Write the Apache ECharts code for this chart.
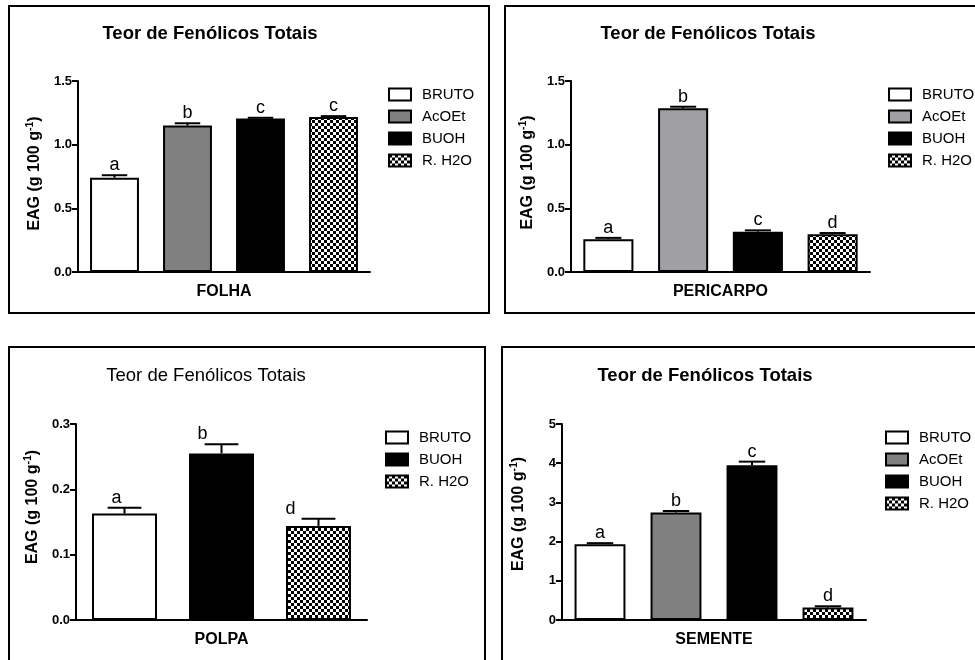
<!DOCTYPE html>
<html>
<head>
<meta charset="utf-8">
<script src="https://cdn.jsdelivr.net/npm/echarts@6/dist/echarts.min.js"></script>
<style>
  html, body { margin: 0; padding: 0; background: #fff; }
  #chart { width: 975px; height: 660px; }
</style>
</head>
<body>
<div id="chart"></div>
<script>
// ---- data ----
const titleText = 'Teor de Fenólicos Totais';

const folhaCats = ['BRUTO', 'AcOEt', 'BUOH', 'R. H2O'];
const folhaMean = [0.74, 1.15, 1.205, 1.218];
const folhaErr = [0.02, 0.018, 0.006, 0.006];
const folhaLetters = ['a', 'b', 'c', 'c'];

const pericarpoCats = ['BRUTO', 'AcOEt', 'BUOH', 'R. H2O'];
const pericarpoMean = [0.258, 1.286, 0.317, 0.296];
const pericarpoErr = [0.01, 0.012, 0.01, 0.01];
const pericarpoLetters = ['a', 'b', 'c', 'd'];

const polpaCats = ['BRUTO', 'BUOH', 'R. H2O'];
const polpaMean = [0.163, 0.255, 0.144];
const polpaErr = [0.009, 0.014, 0.011];
const polpaLetters = ['a', 'b', 'd'];

const sementeCats = ['BRUTO', 'AcOEt', 'BUOH', 'R. H2O'];
const sementeMean = [1.93, 2.74, 3.95, 0.32];
const sementeErr = [0.03, 0.04, 0.09, 0.03];
const sementeLetters = ['a', 'b', 'c', 'd'];

// ---- styling ----
const FONT = 'Liberation Sans, Arial, Helvetica, sans-serif';

function checker(cell) {
  const c = document.createElement('canvas');
  c.width = c.height = cell * 2;
  const g = c.getContext('2d');
  g.fillStyle = '#fff';
  g.fillRect(0, 0, cell * 2, cell * 2);
  g.fillStyle = '#000';
  g.fillRect(0, 0, cell, cell);
  g.fillRect(cell, cell, cell, cell);
  return c;
}
const checkerFill = { image: checker(3), repeat: 'repeat' };

function fillFor(name, grayTone) {
  if (name === 'BRUTO') return '#ffffff';
  if (name === 'AcOEt') return grayTone;
  if (name === 'BUOH') return '#000000';
  return checkerFill;
}

// yNameShift moves the rotated axis title upward along the axis (px)
const panels = [
  { cats: folhaCats, mean: folhaMean, err: folhaErr, letters: folhaLetters, label: 'FOLHA',
    max: 1.5, step: 0.5, digits: 1, gray: '#808080', boldTitle: true, letterDx: [0, 0, 0, 0], yNameShift: 3,
    grid: { left: 78, top: 81, width: 292, height: 191 },
    title: { x: 210, y: 24 }, legend: { x: 388, y: 87 },
    frame: { x: 9, y: 6, w: 480, h: 307 } },
  { cats: pericarpoCats, mean: pericarpoMean, err: pericarpoErr, letters: pericarpoLetters, label: 'PERICARPO',
    max: 1.5, step: 0.5, digits: 1, gray: '#a0a0a4', boldTitle: true, letterDx: [0, 0, 0, 0], yNameShift: 4,
    grid: { left: 571, top: 81, width: 299, height: 191 },
    title: { x: 708, y: 24 }, legend: { x: 888, y: 87 },
    frame: { x: 505, y: 6, w: 500, h: 307 } },
  { cats: polpaCats, mean: polpaMean, err: polpaErr, letters: polpaLetters, label: 'POLPA',
    max: 0.3, step: 0.1, digits: 1, gray: '#808080', boldTitle: false, letterDx: [-8, -19, -28], yNameShift: 15,
    grid: { left: 76, top: 424, width: 291, height: 196 },
    title: { x: 206, y: 366 }, legend: { x: 385, y: 430 },
    frame: { x: 9, y: 347, w: 476, h: 400 } },
  { cats: sementeCats, mean: sementeMean, err: sementeErr, letters: sementeLetters, label: 'SEMENTE',
    max: 5, step: 1, digits: 0, gray: '#808080', boldTitle: true, letterDx: [0, 0, 0, 0], yNameShift: 8,
    grid: { left: 562, top: 424, width: 304, height: 196 },
    title: { x: 705, y: 366 }, legend: { x: 885, y: 430 },
    frame: { x: 502, y: 347, w: 500, h: 400 } }
];

const option = {
  animation: false,
  backgroundColor: '#fff',
  textStyle: { fontFamily: FONT },
  title: [], grid: [], xAxis: [], yAxis: [], legend: [], series: [], graphic: []
};

panels.forEach((p, pi) => {
  option.grid.push(p.grid);

  option.title.push({
    text: titleText, left: p.title.x, top: p.title.y, textAlign: 'center', padding: 0,
    textStyle: { fontFamily: FONT, fontSize: 18.5, fontWeight: p.boldTitle ? 'bold' : 'normal', color: '#000' }
  });

  option.xAxis.push({
    type: 'category', gridIndex: pi, data: p.cats, boundaryGap: true,
    name: p.label, nameLocation: 'middle', nameGap: 12,
    nameTextStyle: { fontFamily: FONT, fontSize: 16, fontWeight: 'bold', color: '#000', verticalAlign: 'top' },
    axisLine: { lineStyle: { color: '#000', width: 2 } },
    axisTick: { alignWithLabel: true, length: 5, lineStyle: { color: '#000', width: 2 } },
    axisLabel: { show: false },
    splitLine: { show: false }
  });

  option.yAxis.push({
    type: 'value', gridIndex: pi, min: 0, max: p.max, interval: p.step,
    name: '{b|EAG (g 100 g}{s|-1}{b|)}', nameLocation: 'middle', nameRotate: 90, nameGap: 34,
    nameTextStyle: {
      padding: [0, 0, 0, p.yNameShift * 2],
      rich: {
        b: { fontFamily: FONT, fontSize: 16, fontWeight: 'bold', color: '#000', lineHeight: 19 },
        s: { fontFamily: FONT, fontSize: 10.5, fontWeight: 'bold', color: '#000', verticalAlign: 'top', lineHeight: 12 }
      }
    },
    axisLine: { show: true, lineStyle: { color: '#000', width: 2 } },
    axisTick: { show: true, length: 6, lineStyle: { color: '#000', width: 2 } },
    axisLabel: {
      margin: 6, fontFamily: FONT, fontSize: 13, fontWeight: 'bold', color: '#000',
      formatter: v => v.toFixed(p.digits)
    },
    splitLine: { show: false }
  });

  option.legend.push({
    orient: 'vertical', left: p.legend.x, top: p.legend.y, padding: 0,
    itemWidth: 22, itemHeight: 12, itemGap: 7, icon: 'rect', selectedMode: false,
    textStyle: { fontFamily: FONT, fontSize: 15, color: '#000', padding: [0, 0, 0, 6] },
    data: p.cats.map(name => ({
      name: name,
      itemStyle: { color: fillFor(name, p.gray), borderColor: '#000', borderWidth: 2 }
    }))
  });

  // one bar series per extract, each placed on its own category
  p.cats.forEach((name, k) => {
    option.series.push({
      type: 'bar', name: name, xAxisIndex: pi, yAxisIndex: pi,
      stack: 'panel' + pi, barWidth: '67%',
      itemStyle: { color: fillFor(name, p.gray), borderColor: '#000', borderWidth: 2 },
      emphasis: { disabled: true },
      data: p.cats.map((_, j) => (j === k ? p.mean[k] : '-'))
    });
  });

  // upward error bars (mean + error) with significance letters
  option.series.push({
    type: 'custom', xAxisIndex: pi, yAxisIndex: pi, z: 5,
    data: p.mean.map((m, i) => [i, m, p.err[i]]),
    renderItem: (params, api) => {
      const i = api.value(0), m = api.value(1), e = api.value(2);
      const base = api.coord([i, m]);
      const top = api.coord([i, m + e]);
      const bw = api.size([1, 0])[0] * 0.67;
      const cw = bw * 0.52;
      return {
        type: 'group',
        children: [
          { type: 'line', shape: { x1: base[0], y1: base[1], x2: top[0], y2: top[1] },
            style: { stroke: '#000', lineWidth: 2 } },
          { type: 'line', shape: { x1: top[0] - cw / 2, y1: top[1], x2: top[0] + cw / 2, y2: top[1] },
            style: { stroke: '#000', lineWidth: 2 } },
          { type: 'text', x: top[0] + p.letterDx[i], y: top[1] - 1,
            style: { text: p.letters[i], align: 'center', verticalAlign: 'bottom',
                     font: '18px ' + FONT, fill: '#000' } }
        ]
      };
    }
  });

  option.graphic.push({
    type: 'rect', silent: true, z: 100,
    shape: { x: p.frame.x, y: p.frame.y, width: p.frame.w, height: p.frame.h },
    style: { fill: 'none', stroke: '#000', lineWidth: 2 }
  });
});

const chart = echarts.init(document.getElementById('chart'), null, { renderer: 'canvas' });
chart.setOption(option);
</script>
</body>
</html>
